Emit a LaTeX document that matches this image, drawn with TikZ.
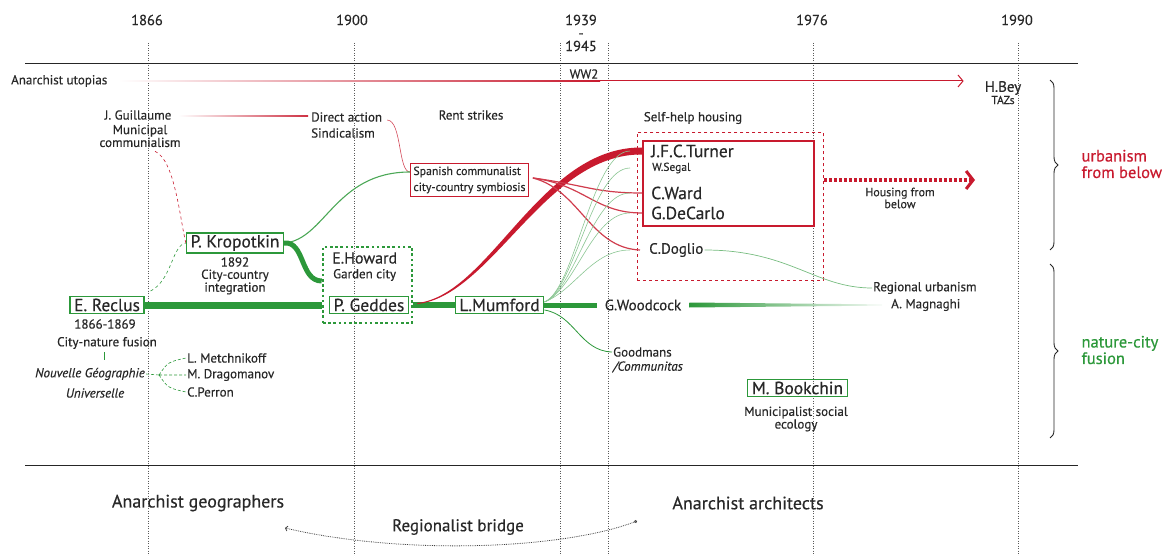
\documentclass[tikz,border=0pt]{standalone}
\usepackage{fontspec}
\setmainfont{PT Sans}[FakeBold=0.45]
\usetikzlibrary{arrows.meta,positioning,calc,decorations.pathreplacing}
\definecolor{mygreen}{RGB}{44,152,58}
\definecolor{myred}{RGB}{200,26,46}
\definecolor{txt}{RGB}{40,40,40}
\tikzset{
  small/.style={font=\fontsize{13}{13}\selectfont, text=txt, inner sep=1pt},
  tiny/.style={font=\fontsize{11.5}{12}\selectfont, text=txt, inner sep=1pt},
  mid/.style={font=\fontsize{15}{15}\selectfont, text=txt, inner sep=1pt},
  person/.style={font=\fontsize{17.5}{18}\selectfont, text=txt, inner sep=1pt},
  gbox/.style={person, draw=mygreen, line width=1.4pt, inner xsep=4pt, inner ysep=2pt},
  year/.style={font=\fontsize{14.5}{13}\selectfont, text=txt},
  era/.style={draw=black!65, dash pattern=on 1pt off 1.5pt, line width=0.7pt},
  axis/.style={draw=black!85, line width=0.9pt},
  gthick/.style={draw=mygreen},
  gthin/.style={draw=mygreen!55, line width=0.6pt},
  rthin/.style={draw=myred!85, line width=1.2pt},
  tight/.style={align=center, font=\fontsize{13}{10.5}\selectfont}
}
\begin{document}
\begin{tikzpicture}[x=1pt,y=-1pt]
\useasboundingbox (0,0) rectangle (1166,556);

% time axis
\foreach \x in {148,354,560,608,813,1018}
  \draw[era] (\x,43) -- (\x,556);
\draw[axis] (25,63) -- (1078,63);
\draw[axis] (25,465) -- (1078,465);
\node[year] (y1866) at (147,20) {1866};
\node[year] (y1900) at (352,20) {1900};
\node[year, align=center] (y1939) at (581,33) {1939\\-\\1945};
\node[year] (y1976) at (812,20) {1976};
\node[year] (y1990) at (1017,20) {1990};
\node[small] (ww2) at (584,74) {WW2};

% utopias
\node[small, anchor=west] (utopias) at (10,81) {Anarchist utopias};
\node[mid] (hbey) at (1003,88) {H.Bey};
\node[tiny] (tazs) at (1003,100) {TAZs};
\coordinate (u1) at (600,81);
\shade[left color=white, right color=myred] ([xshift=10pt,yshift=-0.5pt]utopias.east) rectangle ([yshift=0.5pt]u1);
\draw[myred, line width=1pt, -{Straight Barb[length=5pt,width=12pt]}] (u1) -- ([xshift=-20pt]u1 -| hbey.west);

% geographers
\node[small] (guillaume) at (138,115) {J. Guillaume};
\node[small, tight] (municipal) at (140,136) {Municipal\\communialism};
\node[small, anchor=west] (direct) at (310,117) {Direct action};
\node[small, anchor=west] (sindic) at (310,133) {Sindicalism};
\node[small] (rent) at (471,115) {Rent strikes};
\shade[left color=white, right color=myred!90] ([xshift=6pt,yshift=-0.7pt]guillaume.east) rectangle ([xshift=-2pt,yshift=0.7pt]direct.west);

\node[tiny, draw=myred, line width=0.8pt, align=left, inner sep=3pt, font=\fontsize{11.8}{16}\selectfont, anchor=west] (spanish) at (410,180) {Spanish communalist\\city-country symbiosis};
\draw[myred!80, line width=0.6pt] ([xshift=4pt,yshift=-3pt]direct.east) .. controls (402,121) and (398,172) .. ([yshift=8pt]spanish.west);

\node[gbox] (kropotkin) at (235,243) {P. Kropotkin};
\node[small] (k1892) at (235,262) {1892};
\node[small, tight] (kcity) at (235,282) {City-country\\integration};
\draw[mygreen!85, line width=1.1pt] (kropotkin.east) .. controls (325,240) and (335,172) .. ([yshift=8pt]spanish.west);

\node[gbox] (reclus) at (107,305) {E. Reclus};
\node[small] (r1866) at (105,324) {1866-1869};
\node[small] (rcity) at (107,343) {City-nature fusion};
\draw[mygreen, line width=1pt] (104,352) -- (104,360);
\node[small, font=\fontsize{13}{13}\selectfont\itshape] (nouvelle) at (90,374) {Nouvelle Géographie};
\node[small, font=\fontsize{13}{13}\selectfont\itshape] (univ) at (95,393) {Universelle};
\node[small, anchor=west] (metch) at (186,358) {L. Metchnikoff};
\node[small, anchor=west] (drag) at (186,375) {M. Dragomanov};
\node[small, anchor=west] (perron) at (186,392) {C.Perron};
\coordinate (fan) at (159,375);
\draw[mygreen, densely dashed, line width=0.6pt] (nouvelle.east) -- (fan)
  (fan) .. controls (168,362) .. (metch.west)
  (fan) -- (drag.west)
  (fan) .. controls (168,388) .. (perron.west);

\draw[mygreen, dashed, line width=0.6pt] ([xshift=6pt,yshift=5pt]reclus.north east) .. controls (172,280) and (172,245) .. (kropotkin.west);
\draw[myred, dashed, line width=0.6pt] ([xshift=15pt,yshift=-3pt]municipal.south) .. controls (175,160) and (180,220) .. (kropotkin.west);

% regionalists
\node[mid, anchor=west, font=\fontsize{16}{16}\selectfont] (howardtxt) at (331,258) {E.Howard};
\node[small, anchor=west] (garden) at (332,275) {Garden city};
\node[gbox] (geddes) at (369,305) {P. Geddes};
\node[draw=mygreen, line width=2.6pt, dash pattern=on 2.6pt off 2.6pt, minimum width=89pt, minimum height=76pt] (howard) at (367.5,285) {};
\draw[mygreen, line width=5pt] (kropotkin.east) .. controls (305,241) and (300,281) .. ([yshift=4pt]howard.west);

\node[gbox] (mumford) at (499.5,305) {L.Mumford};
\node[mid, inner xsep=8pt] (woodcock) at (643,305) {G.Woodcock};
\node[small, anchor=west] (magnaghi) at (890,305) {A. Magnaghi};
\node[small, anchor=west] (regional) at (872,288) {Regional urbanism};
\node[small, anchor=west] (goodmans) at (612,352) {Goodmans};
\node[small, anchor=west, font=\fontsize{13}{13}\selectfont\itshape] (communitas) at (612,367) {/Communitas};

\draw[gthick, line width=7pt] (reclus.east) -- (reclus.east -| howard.west);
\draw[gthick, line width=6pt] (howard.east |- geddes) -- (mumford.west);
\draw[gthick, line width=5pt] (mumford.east) -- (woodcock.west);
\shade[left color=mygreen, right color=mygreen!5] ([yshift=2.5pt]woodcock.east) -- ([xshift=-8pt,yshift=0.6pt]magnaghi.west) -- ([xshift=-8pt,yshift=-0.6pt]magnaghi.west) -- ([yshift=-2.5pt]woodcock.east) -- cycle;
\draw[mygreen, line width=0.8pt] ([yshift=-5pt]mumford.east) .. controls (575,315) and (580,351) .. (goodmans.west);

% architects
\node[small] (selfhelp) at (693,118) {Self-help housing};
\node[draw=myred, line width=0.8pt, dashed, minimum width=186pt, minimum height=148pt, anchor=north west] (zone) at (637,132) {};
\node[draw=myred, line width=2.2pt, minimum width=171pt, minimum height=85pt, anchor=north west] (shbox) at (642,140) {};
\node[person, anchor=west] (turner) at (650,151) {J.F.C.Turner};
\node[tiny, anchor=west] (segal) at (651,168) {W.Segal};
\node[person, anchor=west] (ward) at (650,193) {C.Ward};
\node[person, anchor=west] (decarlo) at (650,213) {G.DeCarlo};
\node[mid, anchor=west] (doglio) at (648,250) {C.Doglio};

\fill[myred] ([xshift=4pt,yshift=2pt]howard.east |- geddes) .. controls (490,295) and (540,146.5) .. ([yshift=3.5pt]shbox.west |- turner) -- ([yshift=-3.5pt]shbox.west |- turner) .. controls (545,153.5) and (492,296) .. ([xshift=4pt,yshift=1pt]howard.east |- geddes) -- cycle;

\foreach \t in {ward,decarlo}
  \draw[rthin] ([xshift=4pt,yshift=2pt]spanish.east) .. controls (585,185) and (595,0 |- \t) .. (shbox.west |- \t);
\draw[rthin] ([xshift=4pt,yshift=2pt]spanish.east) .. controls (580,190) and (590,248) .. ([xshift=-8pt]doglio.west);

\foreach \t in {turner,segal,ward,decarlo,doglio}
  \draw[gthin] ([yshift=3pt]mumford.east) .. controls (575,290) and (592,0 |- \t) .. ([xshift=-12pt]shbox.west |- \t);

\draw[mygreen!65, line width=0.7pt] (doglio.east) .. controls (790,250) and (815,288) .. (regional.west);

\node[tiny, align=center, font=\fontsize{12}{9.5}\selectfont] (housing) at (900,198) {Housing from\\below};
\draw[myred, line width=3.8pt, dash pattern=on 3pt off 2pt, -{Straight Barb[length=7pt,width=18pt,line width=3pt]}] (zone.east |- 0,180) -- (975,180);

\node[gbox, line width=1pt] (bookchin) at (797.5,388) {M. Bookchin};
\node[small, tight] (munsoc) at (796,419) {Municipalist social\\ecology};

% groups on the right
\draw[black!85, line width=0.9pt, decorate, decoration={brace, amplitude=8pt}] (1050,80) -- (1050,250);
\draw[black!85, line width=0.9pt, decorate, decoration={brace, amplitude=8pt}] (1050,264) -- (1050,438);
\node[anchor=west, align=left, text=myred, font=\fontsize{16.5}{16.5}\selectfont] (urban) at (1078,164) {urbanism\\from below};
\node[anchor=west, align=left, text=mygreen, font=\fontsize{16.5}{16.5}\selectfont] (naturecity) at (1078,350) {nature-city\\fusion};

% bottom
\node[person, font=\fontsize{18}{18}\selectfont] (geog) at (198,503) {Anarchist geographers};
\node[person, font=\fontsize{18}{18}\selectfont] (arch) at (748,503) {Anarchist architects};
\node[person, font=\fontsize{17}{18}\selectfont] (bridge) at (458,527) {Regionalist bridge};
\draw[black!75, densely dotted, line width=0.8pt, {Straight Barb[length=2pt,width=5pt]}-{Circle[open,length=3pt]}] (285,528) .. controls (400,555) and (560,550) .. (637,521);

\end{tikzpicture}
\end{document}
